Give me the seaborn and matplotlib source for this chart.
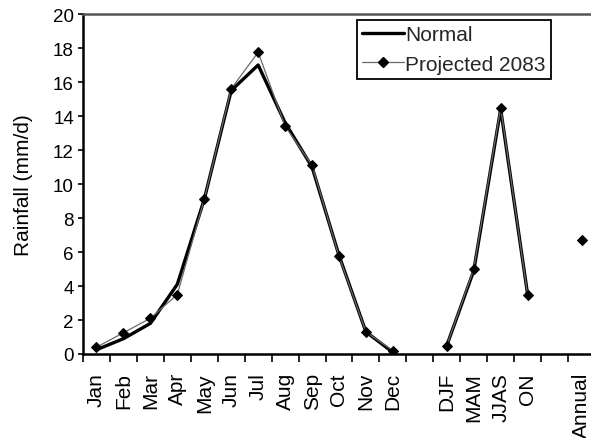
import numpy as np
import pandas as pd
import matplotlib
matplotlib.use("Agg")
import matplotlib.pyplot as plt
import seaborn as sns
from matplotlib.lines import Line2D

categories = ["Jan", "Feb", "Mar", "Apr", "May", "Jun", "Jul", "Aug", "Sep", "Oct", "Nov", "Dec",
              "", "DJF", "MAM", "JJAS", "ON", "", "Annual"]
months = ["Jan", "Feb", "Mar", "Apr", "May", "Jun", "Jul", "Aug", "Sep", "Oct", "Nov", "Dec"]
seasons = ["DJF", "MAM", "JJAS", "ON"]
annual = ["Annual"]

normal_months = [0.25, 0.9, 1.8, 4.1, 9.1, 15.5, 17.0, 13.6, 11.0, 5.8, 1.3, 0.1]
proj_months = [0.4, 1.25, 2.1, 3.5, 9.1, 15.6, 17.75, 13.4, 11.1, 5.75, 1.3, 0.2]
normal_seasons = [0.5, 4.9, 14.4, 3.5]
proj_seasons = [0.5, 5.0, 14.5, 3.47]
normal_annual = [6.7]
proj_annual = [6.72]
yticks = [0, 2, 4, 6, 8, 10, 12, 14, 16, 18, 20]

sns.set_theme(style="white")
plt.rcParams["font.family"] = ["Liberation Sans", "DejaVu Sans"]

pos = {c: i for i, c in enumerate(categories) if c}

fig = plt.figure(figsize=(5.91, 4.39), dpi=100)
ax = fig.add_axes([83/591, (439-355)/439, 512/591, 340/439])

groups = [(months, normal_months, proj_months),
          (seasons, normal_seasons, proj_seasons),
          (annual, normal_annual, proj_annual)]
for cats, nv, pv in groups:
    df = pd.DataFrame({"x": [pos[c] for c in cats], "normal": nv, "proj": pv})
    sns.lineplot(data=df, x="x", y="normal", ax=ax, color="black", linewidth=2.4,
                 sort=False, estimator=None, zorder=3)
    sns.lineplot(data=df, x="x", y="proj", ax=ax, color="#6a6a6a", linewidth=0.9,
                 marker="D", markersize=5.5, markerfacecolor="black", markeredgecolor="black",
                 sort=False, estimator=None, zorder=4)

ax.set_xlim(-0.5, len(categories) - 0.5)
ax.set_ylim(0, 20)
ax.set_yticks(yticks)
ax.set_yticklabels([str(v) for v in yticks], fontsize=13.5)
ax.set_xticks(range(len(categories)))
ax.set_xticklabels(categories, rotation=90, fontsize=15)
ax.set_xticks(np.arange(-0.5, len(categories), 1.0), minor=True)
ax.tick_params(axis="x", which="major", length=0, pad=13, colors="black")
ax.tick_params(axis="x", which="minor", length=6, width=1.2, direction="out", color="black", bottom=True)
ax.tick_params(axis="y", which="major", length=3.5, width=1.2, direction="out", left=True,
               color="black", pad=3, labelcolor="black")
ax.set_xlabel("")
ax.set_ylabel("Rainfall (mm/d)", fontsize=15, color="black")
ax.yaxis.set_label_coords(-0.097, 0.5)

for s in ["left", "bottom"]:
    ax.spines[s].set_color("black")
    ax.spines[s].set_linewidth(1.8)
ax.spines["top"].set_color("#555555")
ax.spines["top"].set_linewidth(1.8)
ax.spines["right"].set_visible(False)

handles = [Line2D([0], [0], color="black", lw=2.4),
           Line2D([0], [0], color="#6a6a6a", lw=0.9, marker="D", markersize=5.5,
                  markerfacecolor="black", markeredgecolor="black")]
leg = ax.legend(handles, ["Normal", "Projected 2083"], loc="upper left",
                bbox_to_anchor=(357/591, 1 - 21/439), bbox_transform=fig.transFigure,
                borderaxespad=0, fontsize=15, frameon=True, fancybox=False,
                framealpha=1, edgecolor="black", handlelength=2.0, handletextpad=0.05,
                borderpad=0.25, labelspacing=0.5)
leg.get_frame().set_linewidth(1.3)

fig.savefig("out.png", dpi=100)
